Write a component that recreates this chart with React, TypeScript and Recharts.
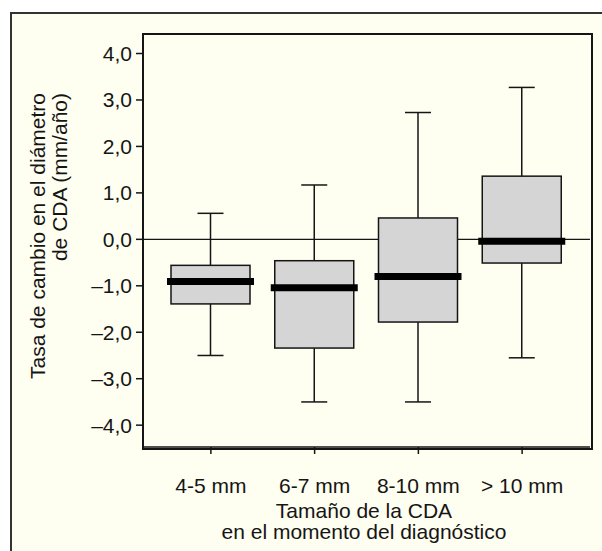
import React from "react";
import { ComposedChart, Bar, XAxis, YAxis, CartesianGrid } from "recharts";

const categories = ["4-5 mm", "6-7 mm", "8-10 mm", "> 10 mm"];
const whiskerLow = [-2.5, -3.5, -3.5, -2.55];
const quartile1 = [-1.39, -2.34, -1.78, -0.51];
const medians = [-0.91, -1.04, -0.8, -0.04];
const quartile3 = [-0.56, -0.46, 0.46, 1.36];
const whiskerHigh = [0.56, 1.17, 2.73, 3.27];
const yTicks = [-4, -3, -2, -1, 0, 1, 2, 3, 4];

const yLabelLines = ["Tasa de cambio en el diámetro", "de CDA (mm/año)"];
const xLabelLines = ["Tamaño de la CDA", "en el momento del diagnóstico"];

const data = categories.map((name, i) => ({
  name,
  min: whiskerLow[i],
  q1: quartile1[i],
  median: medians[i],
  q3: quartile3[i],
  max: whiskerHigh[i],
  range: [whiskerLow[i], whiskerHigh[i]],
}));

const FONT = '"Liberation Sans", Arial, Helvetica, sans-serif';
const INK = "#151515";
const FS = 21;
const Y_DOMAIN: [number, number] = [-4.47, 4.42];
const M = { top: 34, right: 12, bottom: 4, left: 3 };
const Y_AXIS_W = 140;
const X_AXIS_H = 100;

const fmt = (v: number) => v.toFixed(1).replace(".", ",").replace("-", "\u2013");

// draws one box: the bar's own rect spans min..max, the rest is mapped inside it
function BoxShape(props: any) {
  const { x, y, width, height, payload } = props;
  if (!payload) return null;
  const top = Math.min(y, y + height);
  const h = Math.abs(height);
  const per = h / (payload.max - payload.min);
  const toY = (v: number) => top + (payload.max - v) * per;
  const cx = x + width / 2;
  const cap = 13;
  return (
    <g>
      <line x1={cx} x2={cx} y1={toY(payload.max)} y2={toY(payload.min)} stroke={INK} strokeWidth={1.5} />
      <line x1={cx - cap} x2={cx + cap} y1={toY(payload.max)} y2={toY(payload.max)} stroke={INK} strokeWidth={1.5} />
      <line x1={cx - cap} x2={cx + cap} y1={toY(payload.min)} y2={toY(payload.min)} stroke={INK} strokeWidth={1.5} />
      <rect
        x={x}
        y={toY(payload.q3)}
        width={width}
        height={toY(payload.q1) - toY(payload.q3)}
        fill="#d5d5d5"
        stroke={INK}
        strokeWidth={1.5}
      />
      <line
        x1={x - 4}
        x2={x + width + 4}
        y1={toY(payload.median)}
        y2={toY(payload.median)}
        stroke="#000"
        strokeWidth={7}
      />
    </g>
  );
}

function YLabel(props: any) {
  const { viewBox } = props;
  const bx = viewBox.x;
  const endY = 93;
  return (
    <g>
      {yLabelLines.map((t, i) => {
        const lx = bx + 42 + i * 22;
        return (
          <text
            key={i}
            x={lx}
            y={endY}
            transform={`rotate(-90, ${lx}, ${endY})`}
            textAnchor="end"
            fontSize={FS}
            fontFamily={FONT}
            fill={INK}
          >
            {t}
          </text>
        );
      })}
    </g>
  );
}

function XLabel() {
  return (
    <g>
      {xLabelLines.map((t, i) => (
        <text
          key={i}
          x={364}
          y={518 + i * 21}
          textAnchor="middle"
          fontSize={FS}
          fontFamily={FONT}
          fill={INK}
        >
          {t}
        </text>
      ))}
    </g>
  );
}

export default function App() {
  const W = 602;
  const H = 551;
  const plotLeft = M.left + Y_AXIS_W;
  const plotW = W - plotLeft - M.right;
  const plotH = H - M.top - M.bottom - X_AXIS_H;
  return (
    <div
      style={{
        position: "absolute",
        left: 0,
        top: 0,
        width: W,
        height: H,
        background: "#fff",
        overflow: "hidden",
      }}
    >
      <div
        style={{
          position: "absolute",
          left: 10,
          top: 12,
          width: 620,
          height: 560,
          background: "#fefef1",
          borderLeft: "2px solid #333",
          borderTop: "2px solid #333",
        }}
      />
      <div style={{ position: "absolute", left: 0, top: 0, zIndex: 1 }}>
        <ComposedChart width={W} height={H} data={data} margin={M}>
          {/* zero line, drawn under the boxes */}
          <CartesianGrid
            horizontal
            vertical={false}
            horizontalValues={[0]}
            stroke={INK}
            strokeWidth={1.3}
          />
          <XAxis
            dataKey="name"
            height={X_AXIS_H}
            padding={{ left: 16, right: 16 }}
            tickSize={7}
            tickMargin={24}
            tick={{ fontSize: FS, fill: INK, fontFamily: FONT }}
            axisLine={{ stroke: INK, strokeWidth: 1.5 }}
            tickLine={{ stroke: INK, strokeWidth: 1.5 }}
            label={<XLabel />}
          />
          <YAxis
            type="number"
            domain={Y_DOMAIN}
            ticks={yTicks}
            width={Y_AXIS_W}
            tickSize={7}
            tickMargin={4}
            tickFormatter={fmt}
            tick={{ fontSize: FS, fill: INK, fontFamily: FONT }}
            axisLine={{ stroke: INK, strokeWidth: 1.5 }}
            tickLine={{ stroke: INK, strokeWidth: 1.5 }}
            label={<YLabel />}
          />
          <YAxis
            yAxisId="right"
            orientation="right"
            type="number"
            domain={Y_DOMAIN}
            width={0}
            tick={false}
            tickLine={false}
            axisLine={{ stroke: INK, strokeWidth: 1.5 }}
          />
          <Bar dataKey="range" barSize={79} shape={<BoxShape />} isAnimationActive={false} />
        </ComposedChart>
      </div>
      {/* closed frame round the plot area */}
      <div
        style={{
          position: "absolute",
          zIndex: 5,
          left: plotLeft - 1,
          top: M.top - 1,
          width: plotW,
          height: plotH,
          border: `2px solid ${INK}`,
          pointerEvents: "none",
        }}
      />
    </div>
  );
}
